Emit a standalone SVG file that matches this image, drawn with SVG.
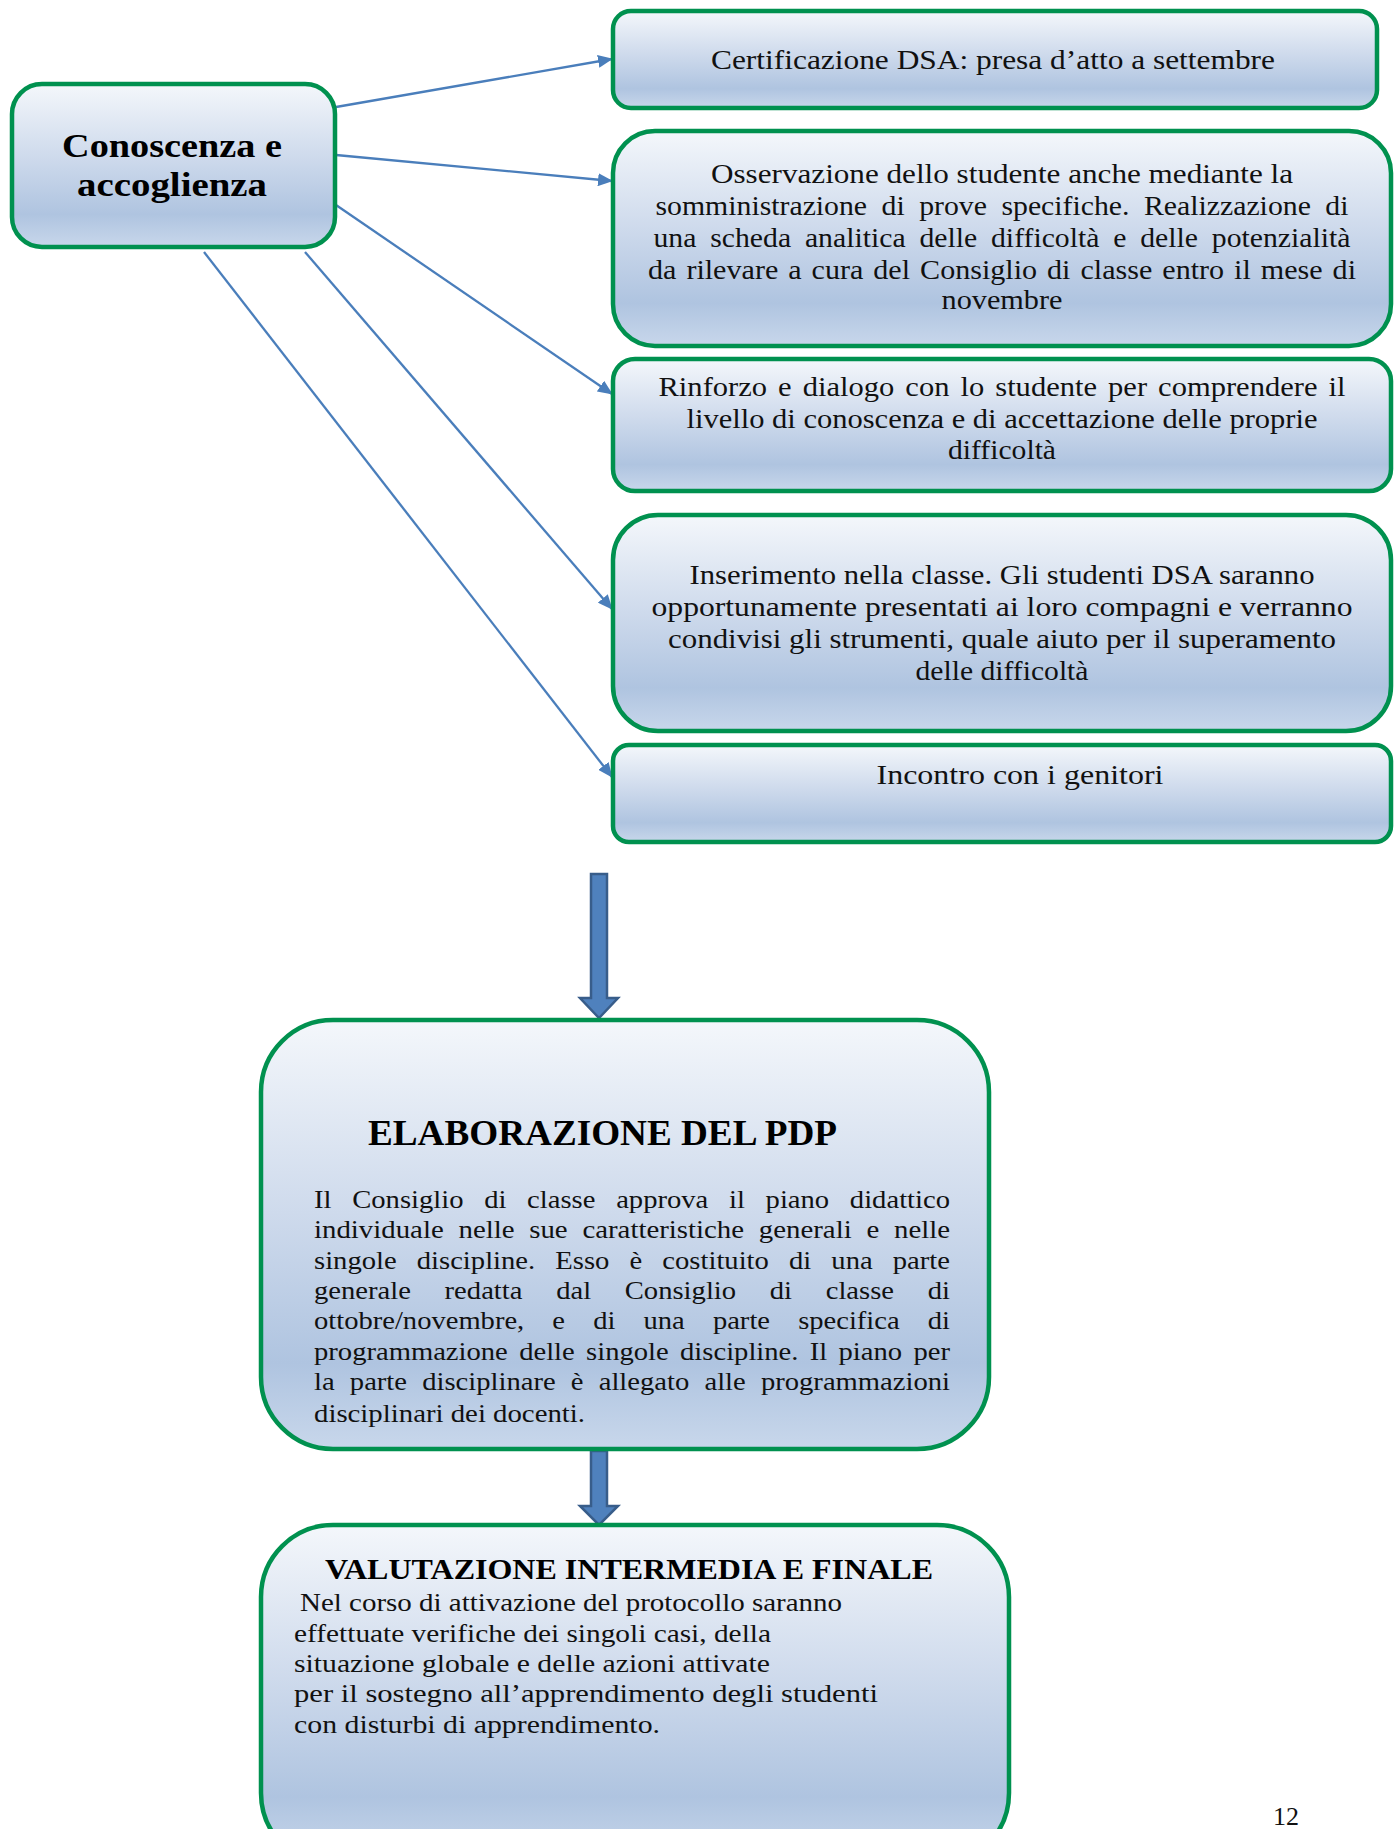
<svg xmlns="http://www.w3.org/2000/svg" width="1398" height="1829" viewBox="0 0 1398 1829">
<defs>
<linearGradient id="g" x1="0" y1="0" x2="0" y2="1">
<stop offset="0" stop-color="#F4F7FB"/>
<stop offset="0.45" stop-color="#CEDAEC"/>
<stop offset="0.8" stop-color="#AFC4E0"/>
<stop offset="1" stop-color="#C8D7EB"/>
</linearGradient>
<marker id="ah" viewBox="0 0 15 13" refX="14" refY="6.5" markerWidth="15" markerHeight="13" orient="auto" markerUnits="userSpaceOnUse">
<path d="M0,0 L15,6.5 L0,13 z" fill="#4A7EBB"/>
</marker>
<style>
.box{fill:url(#g);stroke:#00914F;stroke-width:4.5}
.t{font-family:"Liberation Serif",serif;font-size:27px;fill:#111;text-anchor:middle}
.b{font-family:"Liberation Serif",serif;font-size:26px;fill:#111}
.h{font-family:"Liberation Serif",serif;font-weight:bold;fill:#000}
.c{stroke:#4A7EBB;stroke-width:2.3;fill:none;marker-end:url(#ah)}
.blk{fill:#4F81BD;stroke:#385D8A;stroke-width:2.5}
</style>
</defs>

<g id="connectors">
<line class="c" x1="336" y1="107" x2="612" y2="59"/>
<line class="c" x1="336" y1="155" x2="612" y2="181"/>
<line class="c" x1="336" y1="205" x2="612" y2="394"/>
<line class="c" x1="305" y1="252" x2="612" y2="609"/>
<line class="c" x1="204" y1="252" x2="612" y2="777"/>
<path class="blk" d="M591,874 H607 V998 H618 L599,1018 L580,998 H591 Z"/>
<path class="blk" d="M591,1451 H607 V1506 H618 L599,1525 L580,1506 H591 Z"/>
</g>

<g id="node-conoscenza">
<rect class="box" x="12" y="84" width="323" height="163" rx="30"/>
<text class="h" font-size="33" text-anchor="middle" x="172" y="157" textLength="220" lengthAdjust="spacingAndGlyphs">Conoscenza e</text>
<text class="h" font-size="33" text-anchor="middle" x="172" y="196" textLength="190" lengthAdjust="spacingAndGlyphs">accoglienza</text>
</g>

<g id="node-certificazione">
<rect class="box" x="613" y="11" width="764" height="97" rx="18"/>
<text class="t" x="993" y="69" textLength="564" lengthAdjust="spacingAndGlyphs">Certificazione DSA: presa d’atto a settembre</text>
</g>

<g id="node-osservazione">
<rect class="box" x="613" y="131" width="778" height="215" rx="42"/>
<text class="t" x="1002" y="183" textLength="582" lengthAdjust="spacingAndGlyphs">Osservazione dello studente anche mediante la</text>
<text class="t" x="1002" y="215" word-spacing="6.4" textLength="693" lengthAdjust="spacingAndGlyphs">somministrazione di prove specifiche. Realizzazione di</text>
<text class="t" x="1002" y="247" word-spacing="5.8" textLength="697" lengthAdjust="spacingAndGlyphs">una scheda analitica delle difficoltà e delle potenzialità</text>
<text class="t" x="1002" y="279" word-spacing="2.2" textLength="708" lengthAdjust="spacingAndGlyphs">da rilevare a cura del Consiglio di  classe entro il mese di</text>
<text class="t" x="1002" y="309" textLength="121" lengthAdjust="spacingAndGlyphs">novembre</text>
</g>

<g id="node-rinforzo">
<rect class="box" x="613" y="359" width="778" height="132" rx="22"/>
<text class="t" x="1002" y="396" word-spacing="3" textLength="687" lengthAdjust="spacingAndGlyphs">Rinforzo e dialogo con lo studente per comprendere il</text>
<text class="t" x="1002" y="428" textLength="631" lengthAdjust="spacingAndGlyphs">livello di  conoscenza e di accettazione delle proprie</text>
<text class="t" x="1002" y="459" textLength="108" lengthAdjust="spacingAndGlyphs">difficoltà</text>
</g>

<g id="node-inserimento">
<rect class="box" x="613" y="515" width="778" height="216" rx="45"/>
<text class="t" x="1002" y="584" textLength="625" lengthAdjust="spacingAndGlyphs">Inserimento nella classe. Gli studenti DSA saranno</text>
<text class="t" x="1002" y="616" textLength="701" lengthAdjust="spacingAndGlyphs">opportunamente presentati ai loro compagni e verranno</text>
<text class="t" x="1002" y="648" textLength="668" lengthAdjust="spacingAndGlyphs">condivisi  gli strumenti, quale aiuto per il superamento</text>
<text class="t" x="1002" y="680" textLength="173" lengthAdjust="spacingAndGlyphs">delle difficoltà</text>
</g>

<g id="node-incontro">
<rect class="box" x="613" y="745" width="778" height="97" rx="16"/>
<text class="t" x="1020" y="784" textLength="287" lengthAdjust="spacingAndGlyphs">Incontro con i genitori</text>
</g>

<g id="node-pdp">
<rect class="box" x="261" y="1020" width="728" height="429" rx="72"/>
<text class="h" font-size="35" x="368" y="1145" textLength="469" lengthAdjust="spacingAndGlyphs">ELABORAZIONE DEL PDP</text>
<text class="b" x="314" y="1208" word-spacing="12.3" textLength="636" lengthAdjust="spacingAndGlyphs">Il Consiglio di classe approva il piano didattico</text>
<text class="b" x="314" y="1238" word-spacing="6.8" textLength="636" lengthAdjust="spacingAndGlyphs">individuale nelle sue caratteristiche generali e nelle</text>
<text class="b" x="314" y="1269" word-spacing="11.8" textLength="636" lengthAdjust="spacingAndGlyphs">singole discipline. Esso è costituito di una parte</text>
<text class="b" x="314" y="1299" word-spacing="24.1" textLength="636" lengthAdjust="spacingAndGlyphs">generale redatta dal Consiglio di classe di</text>
<text class="b" x="314" y="1329" word-spacing="19.1" textLength="636" lengthAdjust="spacingAndGlyphs">ottobre/novembre, e di una parte specifica di</text>
<text class="b" x="314" y="1360" word-spacing="3.8" textLength="636" lengthAdjust="spacingAndGlyphs">programmazione delle singole discipline. Il piano per</text>
<text class="b" x="314" y="1390" word-spacing="7.3" textLength="636" lengthAdjust="spacingAndGlyphs">la parte disciplinare è allegato alle programmazioni</text>
<text class="b" x="314" y="1422" textLength="271" lengthAdjust="spacingAndGlyphs">disciplinari dei docenti.</text>
</g>

<g id="node-valutazione">
<rect class="box" x="261" y="1525" width="748" height="340" rx="72"/>
<text class="h" font-size="30" x="325" y="1579" textLength="608" lengthAdjust="spacingAndGlyphs">VALUTAZIONE INTERMEDIA E FINALE</text>
<text class="b" x="300" y="1611" textLength="542" lengthAdjust="spacingAndGlyphs">Nel corso di attivazione del protocollo saranno</text>
<text class="b" x="294" y="1642" textLength="477" lengthAdjust="spacingAndGlyphs">effettuate  verifiche dei singoli casi, della</text>
<text class="b" x="294" y="1672" textLength="476" lengthAdjust="spacingAndGlyphs">situazione globale e delle  azioni  attivate</text>
<text class="b" x="294" y="1702" textLength="584" lengthAdjust="spacingAndGlyphs">per  il  sostegno  all’apprendimento  degli studenti</text>
<text class="b" x="294" y="1733" textLength="366" lengthAdjust="spacingAndGlyphs">con disturbi di apprendimento.</text>
</g>

<text class="b" x="1273" y="1825" font-size="25">12</text>
</svg>
